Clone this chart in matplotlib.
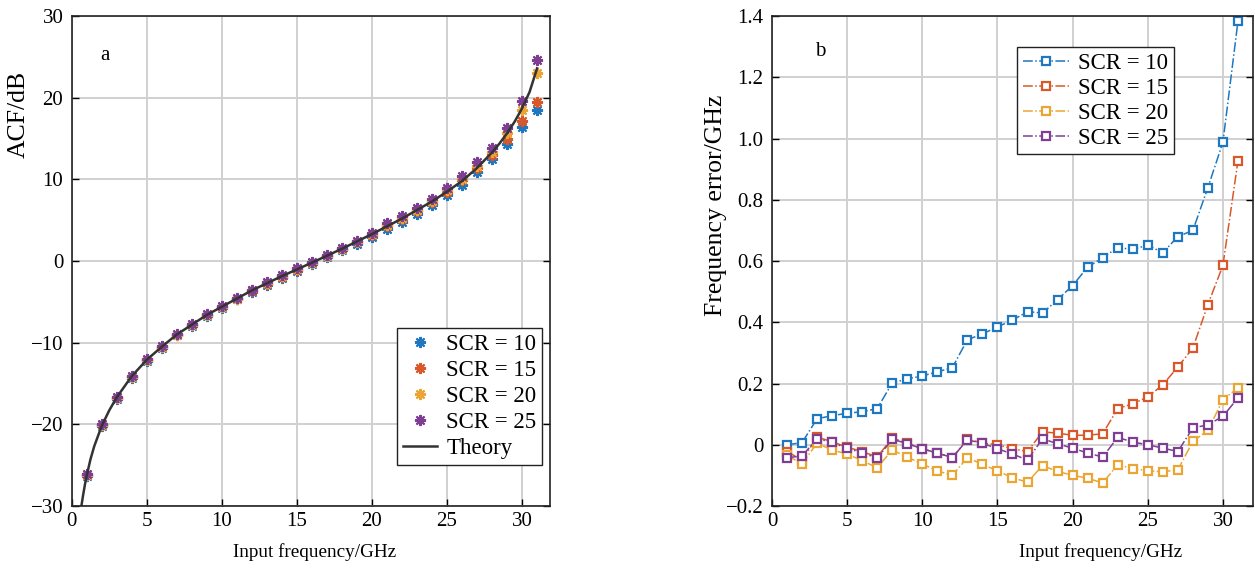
"""Two-panel figure: ACF vs input frequency (a) and frequency error (b)."""

import matplotlib

matplotlib.use("Agg")
import matplotlib.pyplot as plt

plt.rcParams["font.family"] = ["Liberation Serif", "DejaVu Serif"]
plt.rcParams["font.size"] = 15
plt.rcParams["axes.unicode_minus"] = True

FREQ = list(range(1, 32))

# panel a: measured ACF (dB)
ACF_SCR10 = [-26.3, -20.2, -16.9, -14.3, -12.2, -10.6, -9.1, -7.9, -6.7, -5.7,
             -4.7, -3.8, -2.9, -2.05, -1.2, -0.4, 0.45, 1.3, 2.1, 3.0,
             3.9, 4.8, 5.8, 6.85, 8.1, 9.35, 10.9, 12.5, 14.3, 16.4, 18.5]
ACF_SCR15 = [-26.2, -20.1, -16.8, -14.2, -12.1, -10.5, -9.0, -7.8, -6.6, -5.6,
             -4.6, -3.7, -2.75, -1.9, -1.05, -0.25, 0.6, 1.45, 2.3, 3.2,
             4.3, 5.2, 6.15, 7.2, 8.5, 9.9, 11.4, 13.0, 14.9, 17.2, 19.5]
ACF_SCR20 = [-26.2, -20.1, -16.8, -14.2, -12.1, -10.5, -9.0, -7.8, -6.6, -5.6,
             -4.6, -3.6, -2.7, -1.85, -1.0, -0.2, 0.65, 1.5, 2.35, 3.3,
             4.4, 5.3, 6.3, 7.4, 8.7, 10.1, 11.7, 13.4, 15.7, 18.5, 23.0]
ACF_SCR25 = [-26.1, -20.0, -16.7, -14.1, -12.0, -10.4, -8.9, -7.7, -6.5, -5.5,
             -4.5, -3.5, -2.6, -1.75, -0.9, -0.1, 0.75, 1.6, 2.45, 3.4,
             4.6, 5.55, 6.55, 7.65, 8.9, 10.4, 12.1, 13.9, 16.3, 19.6, 24.6]

THEORY_FREQ = [0.65, 0.75, 0.9, 1.0, 1.25, 1.5, 2.0, 2.5, 3.0, 4.0, 5.0, 6.0,
               7.0, 8.0, 9.0, 10.0, 12.0, 14.0, 16.0, 18.0, 20.0, 22.0, 24.0,
               25.0, 26.0, 27.0, 28.0, 28.5, 29.0, 29.5, 30.0, 30.5, 31.0]
THEORY_ACF = [-30.0, -28.8, -27.2, -26.3, -24.3, -22.7, -20.2, -18.3, -16.7,
              -14.1, -12.1, -10.5, -9.0, -7.8, -6.6, -5.6, -3.6, -1.85, -0.2,
              1.5, 3.3, 5.2, 7.3, 8.5, 9.8, 11.4, 13.3, 14.4, 15.65, 17.05,
              18.7, 20.7, 23.6]

# panel b: frequency error (GHz)
ERR_SCR10 = [0.0, 0.007, 0.085, 0.095, 0.103, 0.108, 0.118, 0.202, 0.215, 0.225,
             0.238, 0.252, 0.343, 0.362, 0.385, 0.407, 0.435, 0.43, 0.474, 0.52,
             0.58, 0.611, 0.644, 0.638, 0.652, 0.627, 0.68, 0.70, 0.84, 0.988, 1.383]
ERR_SCR15 = [-0.022, -0.05, 0.025, 0.01, -0.008, -0.022, -0.04, 0.022, 0.005, -0.013,
             -0.027, -0.042, 0.018, 0.006, 0.0, -0.013, -0.022, 0.042, 0.038, 0.031,
             0.031, 0.036, 0.118, 0.134, 0.156, 0.196, 0.254, 0.316, 0.458, 0.586, 0.927]
ERR_SCR20 = [-0.035, -0.062, 0.005, -0.017, -0.03, -0.052, -0.075, -0.017, -0.04, -0.063,
             -0.085, -0.1, -0.042, -0.064, -0.085, -0.108, -0.122, -0.068, -0.087, -0.1,
             -0.109, -0.125, -0.065, -0.078, -0.085, -0.088, -0.082, 0.011, 0.047, 0.147, 0.186]
ERR_SCR25 = [-0.042, -0.037, 0.02, 0.008, -0.012, -0.026, -0.044, 0.018, 0.004, -0.013,
             -0.027, -0.042, 0.016, 0.005, -0.013, -0.03, -0.05, 0.02, 0.003, -0.011,
             -0.027, -0.04, 0.024, 0.009, 0.0, -0.011, -0.022, 0.055, 0.065, 0.093, 0.153]

SCR_LABELS = ["SCR = 10", "SCR = 15", "SCR = 20", "SCR = 25"]
COLORS = ["#1f77c0", "#d9582a", "#eaa635", "#7e3f92"]
ACF_Y_TICKS = [-30, -20, -10, 0, 10, 20, 30]
ERR_Y_TICKS = [-0.2, 0, 0.2, 0.4, 0.6, 0.8, 1.0, 1.2, 1.4]
ERR_Y_LABELS = ["\u22120.2", "0", "0.2", "0.4", "0.6", "0.8", "1.0", "1.2", "1.4"]
X_TICKS = [0, 5, 10, 15, 20, 25, 30]
LEGEND_SIZE = 16.5
XLABEL_SIZE = 13.8
YLABEL_SIZE = 18.5


def style_axis(axis):
    axis.grid(True, color="#d0d0d0", linewidth=1.4)
    axis.set_axisbelow(True)
    axis.tick_params(direction="in", length=5, width=1, top=False, right=True,
                     labelsize=15)
    axis.tick_params(axis="y", pad=6)
    axis.tick_params(axis="x", pad=4)
    for spine in axis.spines.values():
        spine.set_linewidth(1.2)
        spine.set_color("#222222")


def add_legend(axis, corner_px, handlelength, handletextpad, spacing):
    x_frac = corner_px[0] / 1255
    y_frac = 1 - corner_px[1] / 569
    legend = axis.legend(loc="upper left", bbox_to_anchor=(x_frac, y_frac),
                         bbox_transform=fig.transFigure, fontsize=LEGEND_SIZE,
                         fancybox=False, edgecolor="#222222", framealpha=1,
                         borderpad=0.25, handlelength=handlelength,
                         handletextpad=handletextpad, labelspacing=spacing,
                         borderaxespad=0)
    legend.get_frame().set_linewidth(1.0)


fig = plt.figure(figsize=(12.55, 5.69), dpi=100)
ax_a = fig.add_axes([0.0571, 0.1107, 0.3810, 0.861])
ax_b = fig.add_axes([0.6151, 0.1107, 0.3833, 0.861])

# panel a
star = (8, 2, 0)
for values, color, label in zip(
        (ACF_SCR10, ACF_SCR15, ACF_SCR20, ACF_SCR25), COLORS, SCR_LABELS):
    ax_a.plot(FREQ, values, linestyle="none", marker=star, markersize=8,
              markeredgewidth=1.5, color=color, label=label)
ax_a.plot(THEORY_FREQ, THEORY_ACF, color="#333333", linewidth=1.8, label="Theory")
ax_a.set_xlim(0, 31.85)
ax_a.set_ylim(-30, 30)
ax_a.set_xticks(X_TICKS)
ax_a.set_yticks(ACF_Y_TICKS)
ax_a.set_xlabel("Input frequency/GHz", fontsize=XLABEL_SIZE)
ax_a.set_ylabel("ACF/dB", fontsize=YLABEL_SIZE)
ax_a.xaxis.set_label_coords(0.507, -0.075)
ax_a.yaxis.set_label_coords(-0.088, 0.80)
ax_a.text(2.2, 25.2, "a", ha="center", va="center", fontsize=15)
style_axis(ax_a)
add_legend(ax_a, (397, 328), 1.5, 0.4, 0.22)

# panel b
for values, color, label in zip(
        (ERR_SCR10, ERR_SCR15, ERR_SCR20, ERR_SCR25), COLORS, SCR_LABELS):
    ax_b.plot(FREQ, values, linestyle="-.", linewidth=1.1, marker="s",
              markersize=5.5, markeredgewidth=1.6, markerfacecolor="white",
              color=color, label=label)
ax_b.set_xlim(0, 32)
ax_b.set_ylim(-0.2, 1.4)
ax_b.set_xticks(X_TICKS)
ax_b.set_yticks(ERR_Y_TICKS, ERR_Y_LABELS)
ax_b.set_xlabel("Input frequency/GHz", fontsize=XLABEL_SIZE)
ax_b.set_ylabel("Frequency error/GHz", fontsize=YLABEL_SIZE)
ax_b.xaxis.set_label_coords(0.683, -0.075)
ax_b.yaxis.set_label_coords(-0.094, 0.614)
ax_b.text(3.2, 1.286, "b", ha="center", va="center", fontsize=15)
style_axis(ax_b)
add_legend(ax_b, (1017, 47), 2.0, 0.4, 0.17)

fig.savefig("out.png", dpi=100)
